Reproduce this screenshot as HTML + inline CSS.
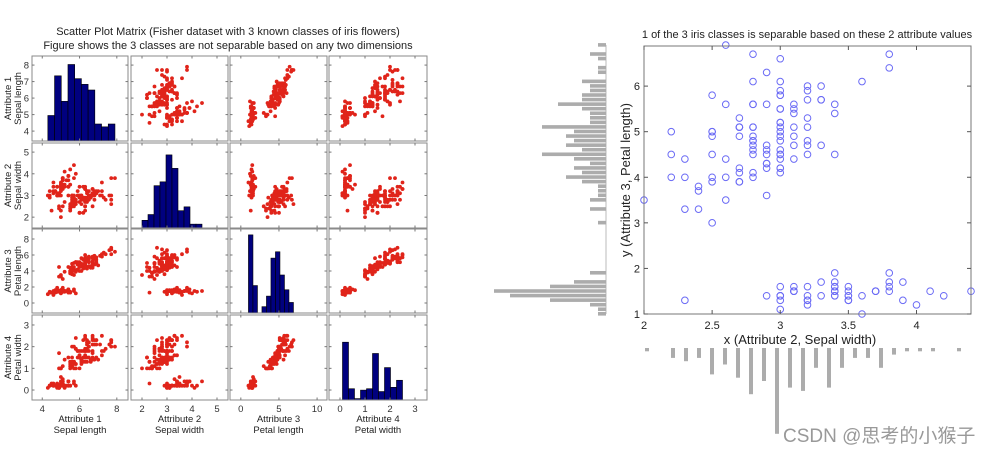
<!DOCTYPE html>
<html><head><meta charset="utf-8"><style>
html,body{margin:0;padding:0;background:#fff;}
svg{display:block;font-family:"Liberation Sans","Noto Sans CJK SC",sans-serif;}
</style></head><body>
<svg id="s" width="993" height="454" viewBox="0 0 993 454" xmlns="http://www.w3.org/2000/svg">
<text x="228" y="35" font-size="11" text-anchor="middle" fill="#222">Scatter Plot Matrix (Fisher dataset with 3 known classes of iris flowers)</text>
<text x="228" y="49" font-size="11" text-anchor="middle" fill="#222">Figure shows the 3 classes are not separable based on any two dimensions</text>
<text x="807" y="38" font-size="11" text-anchor="middle" fill="#222">1 of the 3 iris classes is separable based on these 2 attribute values</text>
<text x="800" y="344" font-size="13" text-anchor="middle" fill="#222">x (Attribute 2, Sepal width)</text>
<text transform="translate(630,180) rotate(-90)" font-size="13" text-anchor="middle" fill="#222">y (Attribute 3, Petal length)</text>
<text x="783" y="442" font-size="19" fill="#999">CSDN @思考的小猴子</text>
</svg>
<script>
const sepalLength=[5.1,4.9,4.7,4.6,5.0,5.4,4.6,5.0,4.4,4.9,5.4,4.8,4.8,4.3,5.8,5.7,5.4,5.1,5.7,5.1,5.4,5.1,4.6,5.1,4.8,5.0,5.0,5.2,5.2,4.7,4.8,5.4,5.2,5.5,4.9,5.0,5.5,4.9,4.4,5.1,5.0,4.5,4.4,5.0,5.1,4.8,5.1,4.6,5.3,5.0,
7.0,6.4,6.9,5.5,6.5,5.7,6.3,4.9,6.6,5.2,5.0,5.9,6.0,6.1,5.6,6.7,5.6,5.8,6.2,5.6,5.9,6.1,6.3,6.1,6.4,6.6,6.8,6.7,6.0,5.7,5.5,5.5,5.8,6.0,5.4,6.0,6.7,6.3,5.6,5.5,5.5,6.1,5.8,5.0,5.6,5.7,5.7,6.2,5.1,5.7,
6.3,5.8,7.1,6.3,6.5,7.6,4.9,7.3,6.7,7.2,6.5,6.4,6.8,5.7,5.8,6.4,6.5,7.7,7.7,6.0,6.9,5.6,7.7,6.3,6.7,7.2,6.2,6.1,6.4,7.2,7.4,7.9,6.4,6.3,6.1,7.7,6.3,6.4,6.0,6.9,6.7,6.9,5.8,6.8,6.7,6.7,6.3,6.5,6.2,5.9];
const sepalWidth=[3.5,3.0,3.2,3.1,3.6,3.9,3.4,3.4,2.9,3.1,3.7,3.4,3.0,3.0,4.0,4.4,3.9,3.5,3.8,3.8,3.4,3.7,3.6,3.3,3.4,3.0,3.4,3.5,3.4,3.2,3.1,3.4,4.1,4.2,3.1,3.2,3.5,3.1,3.0,3.4,3.5,2.3,3.2,3.5,3.8,3.0,3.8,3.2,3.7,3.3,
3.2,3.2,3.1,2.3,2.8,2.8,3.3,2.4,2.9,2.7,2.0,3.0,2.2,2.9,2.9,3.1,3.0,2.7,2.2,2.5,3.2,2.8,2.5,2.8,2.9,3.0,2.8,3.0,2.9,2.6,2.4,2.4,2.7,2.7,3.0,3.4,3.1,2.3,3.0,2.5,2.6,3.0,2.6,2.3,2.7,3.0,2.9,2.9,2.5,2.8,
3.3,2.7,3.0,2.9,3.0,3.0,2.5,2.9,2.5,3.6,3.2,2.7,3.0,2.5,2.8,3.2,3.0,3.8,2.6,2.2,3.2,2.8,2.8,2.7,3.3,3.2,2.8,3.0,2.8,3.0,2.8,3.8,2.8,2.8,2.6,3.0,3.4,3.1,3.0,3.1,3.1,3.1,2.7,3.2,3.3,3.0,2.5,3.0,3.4,3.0];
const petalLength=[1.4,1.4,1.3,1.5,1.4,1.7,1.4,1.5,1.4,1.5,1.5,1.6,1.4,1.1,1.2,1.5,1.3,1.4,1.7,1.5,1.7,1.5,1.0,1.7,1.9,1.6,1.6,1.5,1.4,1.6,1.6,1.5,1.5,1.4,1.5,1.2,1.3,1.5,1.3,1.5,1.3,1.3,1.3,1.6,1.9,1.4,1.6,1.4,1.5,1.4,
4.7,4.5,4.9,4.0,4.6,4.5,4.7,3.3,4.6,3.9,3.5,4.2,4.0,4.7,3.6,4.4,4.5,4.1,4.5,3.9,4.8,4.0,4.9,4.7,4.3,4.4,4.8,5.0,4.5,3.5,3.8,3.7,3.9,5.1,4.5,4.5,4.7,4.4,4.1,4.0,4.4,4.6,4.0,3.3,4.2,4.2,4.2,4.3,3.0,4.1,
6.0,5.1,5.9,5.6,5.8,6.6,4.5,6.3,5.8,6.1,5.1,5.3,5.5,5.0,5.1,5.3,5.5,6.7,6.9,5.0,5.7,4.9,6.7,4.9,5.7,6.0,4.8,4.9,5.6,5.8,6.1,6.4,5.6,5.1,5.6,6.1,5.6,5.5,4.8,5.4,5.6,5.1,5.1,5.9,5.7,5.2,5.0,5.2,5.4,5.1];
const petalWidth=[0.2,0.2,0.2,0.2,0.2,0.4,0.3,0.2,0.2,0.1,0.2,0.2,0.1,0.1,0.2,0.4,0.4,0.3,0.3,0.3,0.2,0.4,0.2,0.5,0.2,0.2,0.4,0.2,0.2,0.2,0.2,0.4,0.1,0.2,0.1,0.2,0.2,0.1,0.2,0.2,0.3,0.3,0.2,0.6,0.4,0.3,0.2,0.2,0.2,0.2,
1.4,1.5,1.5,1.3,1.5,1.3,1.6,1.0,1.3,1.4,1.0,1.5,1.0,1.4,1.3,1.4,1.5,1.0,1.5,1.1,1.8,1.3,1.5,1.2,1.3,1.4,1.4,1.7,1.5,1.0,1.1,1.0,1.2,1.6,1.5,1.6,1.5,1.3,1.3,1.3,1.2,1.4,1.2,1.0,1.3,1.2,1.3,1.3,1.1,1.3,
2.5,1.9,2.1,1.8,2.2,2.1,1.7,1.8,1.8,2.5,2.0,1.9,2.1,2.0,2.4,2.3,1.8,2.2,2.3,1.5,2.3,2.0,2.0,1.8,2.1,1.8,1.8,1.8,2.1,1.6,1.9,2.0,2.2,1.5,1.4,2.3,2.4,1.8,1.8,2.1,2.4,2.3,1.9,2.3,2.5,2.3,1.9,2.0,2.3,1.8];
const attrNames=["Attribute 1","Attribute 2","Attribute 3","Attribute 4"];
const attrLabels=["Sepal length","Sepal width","Petal length","Petal width"];
const xTickLabels=[[4,6,8],[2,3,4,5],[0,5,10],[0,1,2,3]];
const yTickLabels=[[4,5,6,7,8],[2,3,4,5],[0,2,4,6,8],[0,1,2,3]];
const scatterXTicks=[2,2.5,3,3.5,4];
const scatterYTicks=[1,2,3,4,5,6];

const NS="http://www.w3.org/2000/svg";
const svg=document.getElementById('s');
function mk(tag,attrs,parent){const e=document.createElementNS(NS,tag);for(const k in attrs)e.setAttribute(k,attrs[k]);(parent||svg).appendChild(e);return e;}
const cols=[[32,128],[131,228],[230,327],[329,427]];
const rows=[[56,141],[143,228],[229,313],[315,400]];
const xDom=[[3.45,8.6],[1.56,5.44],[-1.42,11.3],[-0.44,3.48]];
const yDom=[[3.4,8.55],[1.5,5.42],[-1.25,9.25],[-0.46,3.46]];
const data=[sepalLength,sepalWidth,petalLength,petalWidth];
const histFrac=[0.9,0.86,0.93,0.68];
function sx(c,v){return cols[c][0]+(v-xDom[c][0])/(xDom[c][1]-xDom[c][0])*(cols[c][1]-cols[c][0]);}
function sy(r,v){return rows[r][1]-(v-yDom[r][0])/(yDom[r][1]-yDom[r][0])*(rows[r][1]-rows[r][0]);}

for(let r=0;r<4;r++)for(let c=0;c<4;c++){
  const g=mk('g',{});
  
  
  const [x0,x1]=cols[c],[y0,y1]=rows[r];
  if(r===c){
    const vals=data[c];const mn=Math.min(...vals),mx=Math.max(...vals);const w=(mx-mn)/10;
    const cnt=new Array(10).fill(0);vals.forEach(v=>{let b=Math.floor((v-mn)/w);if(b>9)b=9;cnt[b]++;});
    const mc=Math.max(...cnt);
    cnt.forEach((n,i)=>{const h=n/mc*histFrac[c]*(y1-y0);const bx=sx(c,mn+i*w),bx2=sx(c,mn+(i+1)*w);
      const b=mk('rect',{x:bx,y:y1-h,width:bx2-bx,height:h,fill:'#00007f',stroke:'#000','stroke-width':0.6},g);
      });
  } else {
    for(let i=0;i<150;i++){const px=sx(c,data[c][i]),py=sy(r,data[r][i]);
      if(px<x0||px>x1||py<y0||py>y1)continue;
      const d=mk('circle',{cx:px,cy:py,r:1.9,fill:'#e0241a'},g);
      }
  }
  mk('rect',{x:x0,y:y0,width:x1-x0,height:y1-y0,fill:'none',stroke:'#8a8a8a','stroke-width':1},g);
  xTickLabels[c].forEach(t=>{const px=sx(c,t);mk('line',{x1:px,x2:px,y1:y1,y2:y1-2.5,stroke:'#777'},g);mk('line',{x1:px,x2:px,y1:y0,y2:y0+2.5,stroke:'#777'},g);});
  yTickLabels[r].forEach(t=>{const py=sy(r,t);if(py<y0||py>y1)return;mk('line',{x1:x0,x2:x0+2.5,y1:py,y2:py,stroke:'#777'},g);mk('line',{x1:x1,x2:x1-2.5,y1:py,y2:py,stroke:'#777'},g);});
}
for(let c=0;c<4;c++){
  xTickLabels[c].forEach(t=>{const e=mk('text',{x:sx(c,t),y:412,'font-size':9.5,'text-anchor':'middle',fill:'#333'});e.textContent=t;
    });
  const cx=(cols[c][0]+cols[c][1])/2;
  const a=mk('text',{x:cx,y:422,'font-size':9.5,'text-anchor':'middle',fill:'#222'});a.textContent=attrNames[c];
  
  const b=mk('text',{x:cx,y:433,'font-size':9.5,'text-anchor':'middle',fill:'#222'});b.textContent=attrLabels[c];
  
}
for(let r=0;r<4;r++){
  yTickLabels[r].forEach(t=>{const py=sy(r,t);if(py<rows[r][0]||py>rows[r][1])return;const e=mk('text',{x:29,y:py+3.5,'font-size':9.5,'text-anchor':'end',fill:'#333'});e.textContent=t;
    });
  const cy=(rows[r][0]+rows[r][1])/2;
  const a=mk('text',{transform:'translate(11,'+cy+') rotate(-90)','font-size':9.5,'text-anchor':'middle',fill:'#222'});a.textContent=attrNames[r];
  
  const b=mk('text',{transform:'translate(21,'+cy+') rotate(-90)','font-size':9.5,'text-anchor':'middle',fill:'#222'});b.textContent=attrLabels[r];
  
}

// Right scatter
const AX0=644,AX1=971,AY0=46,AY1=314,XD=[2,4.4],YD=[1,6.88];
function X(v){return AX0+(v-XD[0])/(XD[1]-XD[0])*(AX1-AX0);}
function Y(v){return AY1-(v-YD[0])/(YD[1]-YD[0])*(AY1-AY0);}
const rg=mk('g',{});


for(let i=0;i<150;i++){const c=mk('circle',{cx:X(sepalWidth[i]),cy:Y(petalLength[i]),r:3.3,fill:'none',stroke:'#6b6bf5','stroke-width':1},rg);
  }
mk('rect',{x:AX0,y:AY0,width:AX1-AX0,height:AY1-AY0,fill:'none',stroke:'#777','stroke-width':1},rg);
scatterXTicks.forEach(t=>{const px=X(t);mk('line',{x1:px,x2:px,y1:AY1,y2:AY1-4,stroke:'#555'},rg);mk('line',{x1:px,x2:px,y1:AY0,y2:AY0+4,stroke:'#555'},rg);
  const e=mk('text',{x:px,y:329,'font-size':11,'text-anchor':'middle',fill:'#222'},rg);e.textContent=t;
  });
scatterYTicks.forEach(t=>{const py=Y(t);mk('line',{x1:AX0,x2:AX0+4,y1:py,y2:py,stroke:'#555'},rg);mk('line',{x1:AX1,x2:AX1-4,y1:py,y2:py,stroke:'#555'},rg);
  const e=mk('text',{x:640,y:py+4,'font-size':11,'text-anchor':'end',fill:'#222'},rg);e.textContent=t;
  });

// marginal histograms (0.1 bins)
function counts(arr){const m={};arr.forEach(v=>{const k=Math.round(v*10);m[k]=(m[k]||0)+1;});return m;}
const lc=counts(petalLength),bc=counts(sepalWidth);
const lmax=Math.max(...Object.values(lc));
mk('line',{x1:606,x2:606,y1:45,y2:314,stroke:'#bbb','stroke-width':1});
for(const k in lc){const len=lc[k]/lmax*112;const py=Y(k/10);
  const b=mk('rect',{x:606-len,y:py-2,width:len,height:3.6,fill:'#acacac'});
  }
for(const k in bc){const len=bc[k]*3.3;const px=647+(k/10-2)*130;
  const b=mk('rect',{x:px-2,y:348,width:4,height:len,fill:'#acacac'});
  }
</script>
</body></html>
